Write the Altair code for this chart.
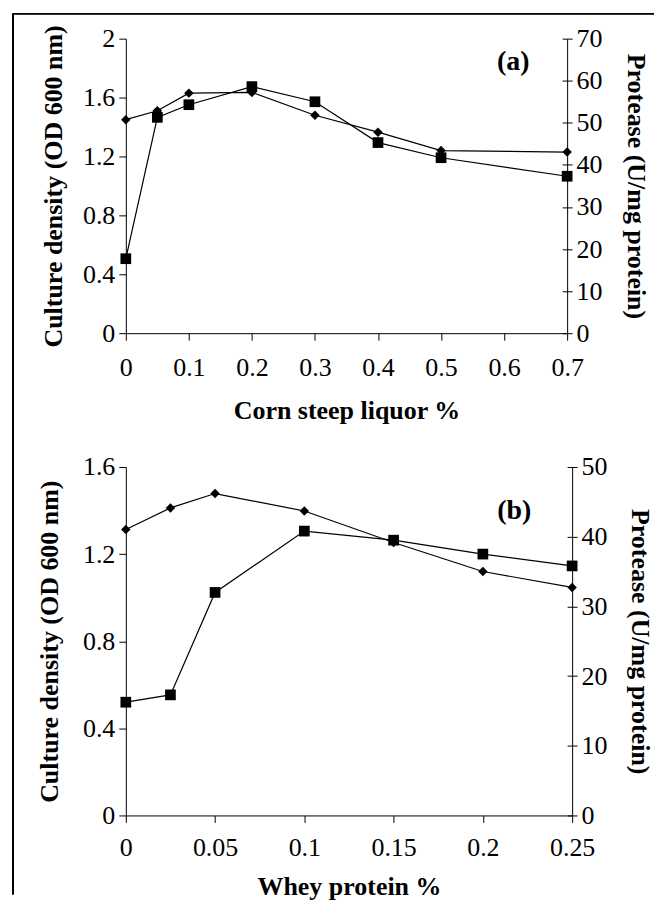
import altair as alt
import pandas as pd

# ---------------- Panel (a): corn steep liquor ----------------
csl_pct = [0, 0.05, 0.1, 0.2, 0.3, 0.4, 0.5, 0.7]
csl_od = [1.45, 1.51, 1.63, 1.635, 1.48, 1.365, 1.24, 1.23]
csl_protease = [17.7, 51.3, 54.3, 58.6, 55.0, 45.3, 41.7, 37.3]
csl_xticks = [0, 0.1, 0.2, 0.3, 0.4, 0.5, 0.6, 0.7]
csl_od_ticks = [0, 0.4, 0.8, 1.2, 1.6, 2.0]
csl_prot_ticks = [0, 10, 20, 30, 40, 50, 60, 70]

# ---------------- Panel (b): whey protein ----------------
whey_pct = [0, 0.025, 0.05, 0.1, 0.15, 0.2, 0.25]
whey_od = [1.313, 1.412, 1.478, 1.398, 1.253, 1.12, 1.047]
whey_protease = [16.25, 17.3, 32.0, 40.8, 39.5, 37.5, 35.8]
whey_xticks = [0, 0.05, 0.1, 0.15, 0.2, 0.25]
whey_od_ticks = [0, 0.4, 0.8, 1.2, 1.6]
whey_prot_ticks = [0, 10, 20, 30, 40, 50]

# panel tags
panel_tags = ["(a)", "(b)"]
tag_x = [0.6145, 0.2176]
tag_y = [1.84, 1.40]

FONT = "Liberation Serif"
OD_TITLE = "Culture density (OD 600 nm)"
PROT_TITLE = "Protease (U/mg protein)"


def make_panel(xs, od, prot, xticks, odticks, protticks, xtitle, tag, tx, ty,
               width, height, lab_pad, title_pad_x, ytitle_pad, rtitle_pad,
               with_border):
    df = pd.DataFrame({"x": xs, "od": od, "prot": prot})
    tagdf = pd.DataFrame({"x": [tx], "od": [ty], "tag": [tag]})

    xenc = alt.X(
        "x:Q",
        scale=alt.Scale(domain=[xticks[0], xticks[-1]], nice=False, zero=False),
        axis=alt.Axis(values=xticks, format="~r", title=xtitle, tickSize=7,
                      labelPadding=lab_pad, titlePadding=title_pad_x),
    )
    yleft = alt.Y(
        "od:Q",
        scale=alt.Scale(domain=[odticks[0], odticks[-1]], nice=False),
        axis=alt.Axis(orient="left", values=odticks, format="~r", title=OD_TITLE,
                      tickSize=7, labelPadding=4, titlePadding=ytitle_pad),
    )
    prot_scale = alt.Scale(domain=[protticks[0], protticks[-1]], nice=False)
    yright = alt.Y(
        "prot:Q",
        scale=prot_scale,
        axis=alt.Axis(orient="right", values=protticks, format="~r", title=PROT_TITLE,
                      tickSize=5, labelPadding=4, titlePadding=rtitle_pad),
    )
    yright_ticks = alt.Y(
        "prot:Q",
        scale=prot_scale,
        axis=alt.Axis(orient="right", values=protticks, offset=-5, tickSize=5,
                      domain=False, labels=False, title=None),
    )

    base = alt.Chart(df)
    od_line = base.mark_line(color="black", strokeWidth=1.2).encode(x=xenc, y=yleft)
    od_pts = base.mark_point(shape="diamond", filled=True, color="black",
                             size=90, opacity=1).encode(x=xenc, y=yleft)
    tag_text = alt.Chart(tagdf).mark_text(font=FONT, fontSize=28, fontWeight="bold",
                                          color="black").encode(x=xenc, y=yleft, text="tag:N")
    layers_left = [od_line, od_pts, tag_text]

    if with_border:
        # figure frame (left and top edges), drawn once
        border_v = alt.Chart(df).mark_rule(color="black", strokeWidth=1).encode(
            x=alt.value(-113), y=alt.value(-25), y2=alt.value(857))
        border_h = alt.Chart(df).mark_rule(color="black", strokeWidth=1).encode(
            x=alt.value(-113), x2=alt.value(529), y=alt.value(-25))
        layers_left += [border_v, border_h]

    left = alt.layer(*layers_left)

    prot_line = base.mark_line(color="black", strokeWidth=1.2).encode(x=xenc, y=yright)
    prot_pts = base.mark_square(color="black", size=115, opacity=1).encode(x=xenc, y=yright)
    right = alt.layer(prot_line, prot_pts)

    ticks = base.mark_point(opacity=0).encode(x=xenc, y=yright_ticks)

    return alt.layer(left, right, ticks).resolve_scale(y="independent").properties(
        width=width, height=height)


panel_a = make_panel(csl_pct, csl_od, csl_protease, csl_xticks, csl_od_ticks,
                     csl_prot_ticks, "Corn steep liquor %", panel_tags[0], tag_x[0], tag_y[0],
                     442, 295, 14, 17, 16, 20, True)
panel_b = make_panel(whey_pct, whey_od, whey_protease, whey_xticks, whey_od_ticks,
                     whey_prot_ticks, "Whey protein %", panel_tags[1], tag_x[1], tag_y[1],
                     447, 349, 12, 13, 20, 19, False)

chart = alt.vconcat(panel_a, panel_b, spacing=134, bounds="flush").properties(
    padding={"left": 4, "top": 4, "right": 0, "bottom": 0}
).configure_axis(
    domainColor="black", tickColor="black", labelColor="black", titleColor="black",
    labelFont=FONT, titleFont=FONT, labelFontSize=26, titleFontSize=26,
    titleFontWeight="bold", grid=False, labelFlush=False, labelOverlap=False,
    domainWidth=1, tickWidth=1,
).configure_view(stroke=None)

chart.save("out.html", embed_options={"renderer": "svg", "actions": False})
